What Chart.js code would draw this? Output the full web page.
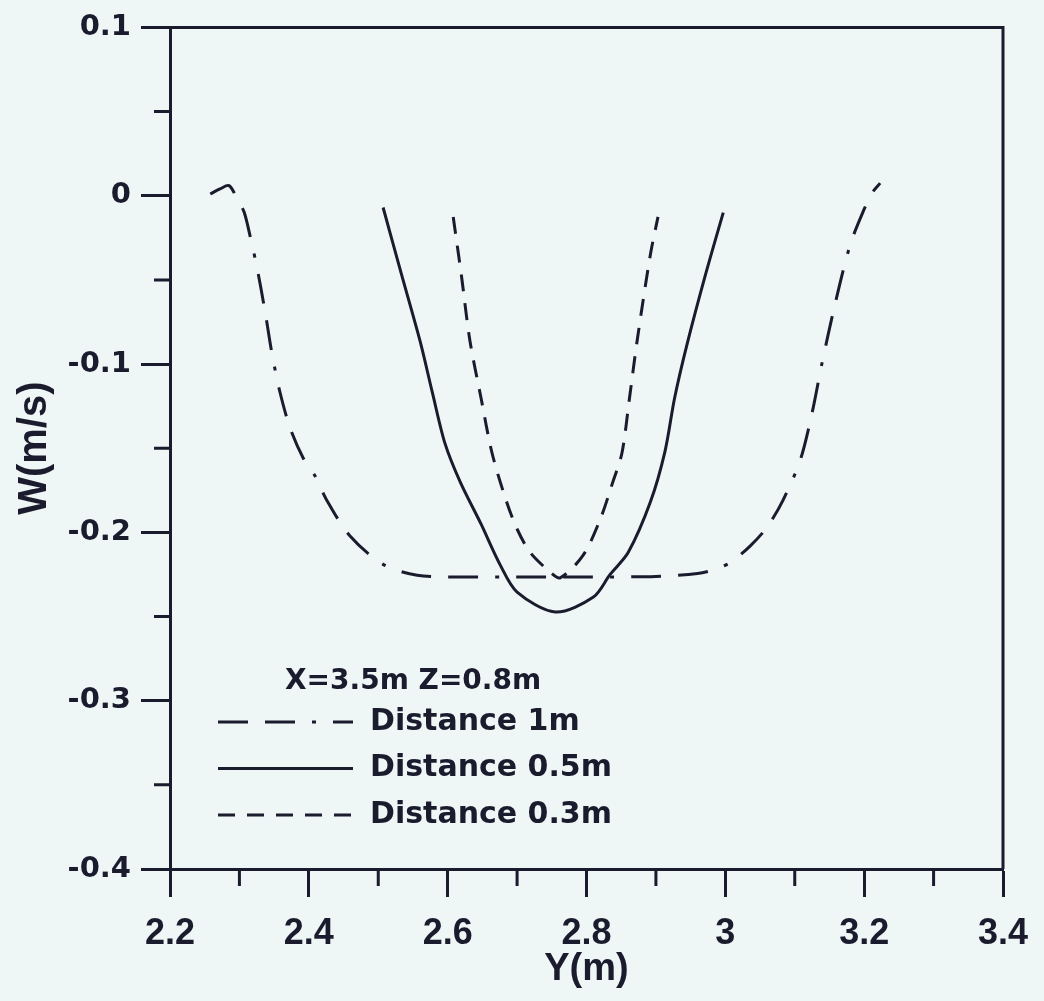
<!DOCTYPE html>
<html>
<head>
<meta charset="utf-8">
<script src="https://cdn.jsdelivr.net/npm/chart.js@4/dist/chart.umd.min.js"></script>
<style>
  html, body { margin: 0; padding: 0; background: #eef6f6; }
  #wrap { width: 1044px; height: 1001px; }
</style>
</head>
<body>
<div id="wrap"><canvas id="myChart" width="1044" height="1001"></canvas></div>
<script>
// values
let legendTitle = "X=3.5m Z=0.8m";
let seriesNames = ["Distance 1m", "Distance 0.5m", "Distance 0.3m"];

let y1m = [2.258, 2.272, 2.285, 2.297, 2.307, 2.317, 2.324, 2.331, 2.339, 2.347, 2.358, 2.373, 2.392, 2.409, 2.426, 2.459, 2.507, 2.556, 2.62, 2.70, 2.80, 2.90, 2.96, 2.985, 3.007, 3.036, 3.060, 3.083, 3.108, 3.125, 3.139, 3.158, 3.180, 3.200, 3.212, 3.223];
let w1m = [0.001, 0.004, 0.006, -0.002, -0.010, -0.027, -0.040, -0.055, -0.074, -0.094, -0.116, -0.138, -0.156, -0.1665, -0.181, -0.202, -0.219, -0.2255, -0.2265, -0.2265, -0.2265, -0.2262, -0.2245, -0.222, -0.218, -0.208, -0.197, -0.181, -0.157, -0.129, -0.100, -0.0645, -0.029, -0.008, 0.002, 0.0075];

let y05 = [2.507, 2.533, 2.560, 2.578, 2.596, 2.618, 2.648, 2.676, 2.700, 2.755, 2.810, 2.834, 2.860, 2.892, 2.913, 2.927, 2.945, 2.972, 2.997];
let w05 = [-0.007, -0.046, -0.086, -0.117, -0.147, -0.170, -0.195, -0.2196, -0.2355, -0.2473, -0.2384, -0.225, -0.212, -0.182, -0.152, -0.120, -0.088, -0.046, -0.010];

let y03 = [2.608, 2.620, 2.632, 2.648, 2.664, 2.685, 2.700, 2.719, 2.748, 2.762, 2.795, 2.820, 2.838, 2.851, 2.862, 2.873, 2.892, 2.903];
let w03 = [-0.0126, -0.048, -0.086, -0.120, -0.153, -0.182, -0.198, -0.212, -0.2237, -0.227, -0.2137, -0.192, -0.170, -0.153, -0.120, -0.086, -0.035, -0.0126];

let yTicksMinor = [-0.35, -0.25, -0.15, -0.05, 0.05];
let xTicksMinor = [2.3, 2.5, 2.7, 2.9, 3.1, 3.3];

const ink = "#1b1b2e";
const toPts = (xs, ys) => xs.map((x, i) => ({ x: x, y: ys[i] }));

const paper = {
  id: "paper",
  beforeDraw(chart) {
    const c = chart.ctx;
    c.save();
    c.fillStyle = "#eef6f6";
    c.fillRect(0, 0, chart.width, chart.height);
    c.restore();
  },
  afterDraw(chart) {
    const c = chart.ctx;
    const a = chart.chartArea;
    const xs = chart.scales.x, ys = chart.scales.y;
    c.save();
    c.strokeStyle = ink;
    c.lineWidth = 3;
    // top and right frame
    c.beginPath();
    c.moveTo(a.left, a.top);
    c.lineTo(a.right, a.top);
    c.lineTo(a.right, a.bottom);
    c.stroke();
    // minor ticks
    c.beginPath();
    yTicksMinor.forEach(v => {
      const p = ys.getPixelForValue(v);
      c.moveTo(a.left - 16, p);
      c.lineTo(a.left, p);
    });
    xTicksMinor.forEach(v => {
      const p = xs.getPixelForValue(v);
      c.moveTo(p, a.bottom);
      c.lineTo(p, a.bottom + 17);
    });
    c.stroke();

    // legend inside plot
    const lx = a.left + 48, tx = a.left + 200;
    c.fillStyle = ink;
    c.textBaseline = "middle";
    c.font = "bold 28px 'DejaVu Sans'";
    c.fillText(legendTitle, a.left + 115, 682);
    c.font = "bold 30px 'DejaVu Sans'";
    chart.data.datasets.forEach((ds, i) => {
      const yy = 722 + i * 46.5;
      c.setLineDash(ds.borderDash || []);
      c.lineWidth = 3;
      c.beginPath();
      c.moveTo(lx, yy);
      c.lineTo(lx + 135, yy);
      c.stroke();
      c.setLineDash([]);
      c.fillText(ds.label, tx, yy);
    });
    c.restore();
  }
};

let ctx = document.getElementById("myChart").getContext("2d");
let myChart = new Chart(ctx, {
  type: "scatter",
  data: {
    datasets: [
      {
        label: seriesNames[0],
        data: toPts(y1m, w1m),
        borderDash: [30, 17, 30, 17, 4, 17],
      },
      {
        label: seriesNames[1],
        data: toPts(y05, w05),
        borderDash: [],
      },
      {
        label: seriesNames[2],
        data: toPts(y03, w03),
        borderDash: [17, 12],
      },
    ].map(d => Object.assign(d, {
      showLine: true,
      borderColor: ink,
      backgroundColor: ink,
      borderWidth: 3,
      pointRadius: 0,
      tension: 0.3,
    })),
  },
  options: {
    responsive: false,
    animation: false,
    layout: { padding: { top: 21, right: 41, left: 0, bottom: 0 } },
    plugins: { legend: { display: false }, tooltip: { enabled: false } },
    scales: {
      x: {
        type: "linear",
        min: 2.2,
        max: 3.4,
        afterFit: s => { s.height = 132; },
        border: { display: true, color: ink, width: 3 },
        grid: { drawOnChartArea: false, drawTicks: true, tickLength: 28, tickWidth: 3, tickColor: ink },
        ticks: {
          stepSize: 0.2,
          padding: 15,
          color: ink,
          maxRotation: 0,
          font: { family: "'Liberation Sans'", size: 36, weight: "bold" },
          callback: v => Number(v.toFixed(1)).toString(),
        },
        title: {
          display: true,
          text: "Y(m)",
          color: ink,
          padding: { top: 0, bottom: 9 },
          font: { family: "'Liberation Sans'", size: 38, weight: "bold" },
        },
      },
      y: {
        min: -0.4,
        max: 0.1,
        afterFit: s => { s.width = 170; },
        border: { display: true, color: ink, width: 3 },
        grid: { drawOnChartArea: false, drawTicks: true, tickLength: 29, tickWidth: 3, tickColor: ink },
        ticks: {
          stepSize: 0.1,
          padding: 10,
          color: ink,
          font: { family: "'DejaVu Sans'", size: 29, weight: "bold" },
          callback: v => Number(v.toFixed(1)).toString(),
        },
        title: {
          display: true,
          text: "W(m/s)",
          color: ink,
          padding: { top: 11, bottom: 0 },
          font: { family: "'Liberation Sans'", size: 40, weight: "bold" },
        },
      },
    },
  },
  plugins: [paper],
});
</script>
</body>
</html>
